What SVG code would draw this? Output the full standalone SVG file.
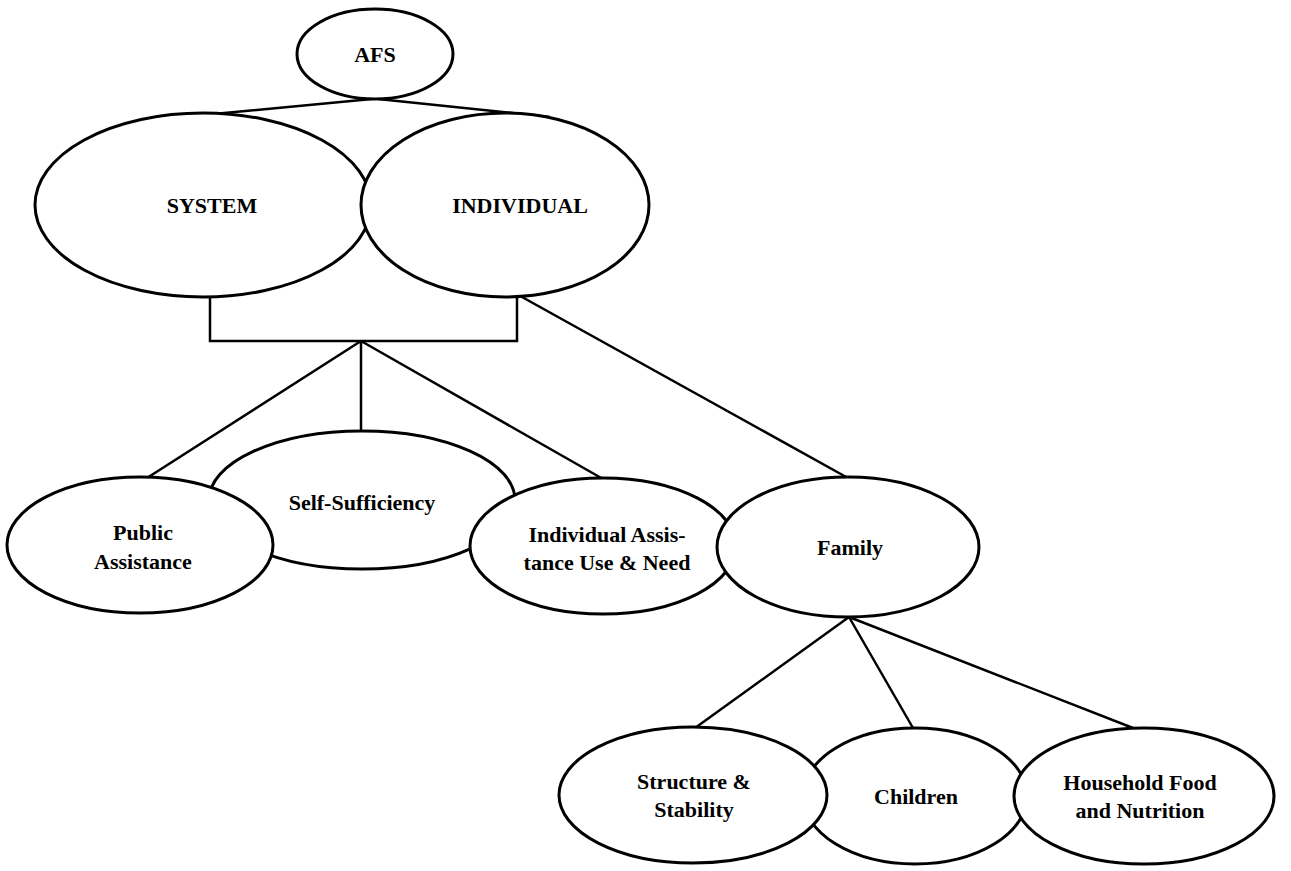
<svg xmlns="http://www.w3.org/2000/svg" width="1291" height="871" viewBox="0 0 1291 871">
<style>
.n{fill:#fff;stroke:#000;stroke-width:3}
.c{fill:none;stroke:#000;stroke-width:2.5}
text{font-family:"Liberation Serif","Times New Roman",serif;font-weight:bold;font-size:22px;text-anchor:middle;fill:#000}
</style>
<rect width="1291" height="871" fill="#fff"/>
<g id="connectors">
<path class="c" d="M372,99 L150,120 M378,99 L550,117"/>
<path class="c" d="M210,296 V341 H517 V296"/>
<path class="c" d="M361,341 L147,478 M361,341 V432 M361,341 L603,479"/>
<path class="c" d="M522,297 L848,478"/>
<path class="c" d="M849,617 L695,728 M849,617 L913,728 M849,617 L1133,728"/>
</g>
<g id="afs"><ellipse class="n" cx="375" cy="54" rx="78" ry="45"/><text x="375" y="62">AFS</text></g>
<g id="system"><ellipse class="n" cx="203" cy="205" rx="168" ry="92"/><text x="212" y="213">SYSTEM</text></g>
<g id="individual"><ellipse class="n" cx="505" cy="205" rx="144" ry="92"/><text x="520" y="213">INDIVIDUAL</text></g>
<g id="self-sufficiency"><ellipse class="n" cx="362" cy="500" rx="153" ry="69"/><text x="362" y="510">Self-Sufficiency</text></g>
<g id="public-assistance"><ellipse class="n" cx="140" cy="545" rx="133" ry="68"/><text x="143" y="540">Public</text><text x="143" y="569">Assistance</text></g>
<g id="individual-assistance"><ellipse class="n" cx="603" cy="546" rx="133" ry="68"/><text x="607" y="542">Individual Assis-</text><text x="607" y="570">tance Use &amp; Need</text></g>
<g id="family"><ellipse class="n" cx="848" cy="547" rx="131" ry="70"/><text x="850" y="555">Family</text></g>
<g id="children"><ellipse class="n" cx="915" cy="796" rx="112" ry="68"/><text x="916" y="804">Children</text></g>
<g id="structure"><ellipse class="n" cx="693" cy="795" rx="134" ry="68"/><text x="694" y="789">Structure &amp;</text><text x="694" y="817">Stability</text></g>
<g id="household"><ellipse class="n" cx="1144" cy="796" rx="130" ry="68"/><text x="1140" y="790">Household Food</text><text x="1140" y="818">and Nutrition</text></g>
</svg>
